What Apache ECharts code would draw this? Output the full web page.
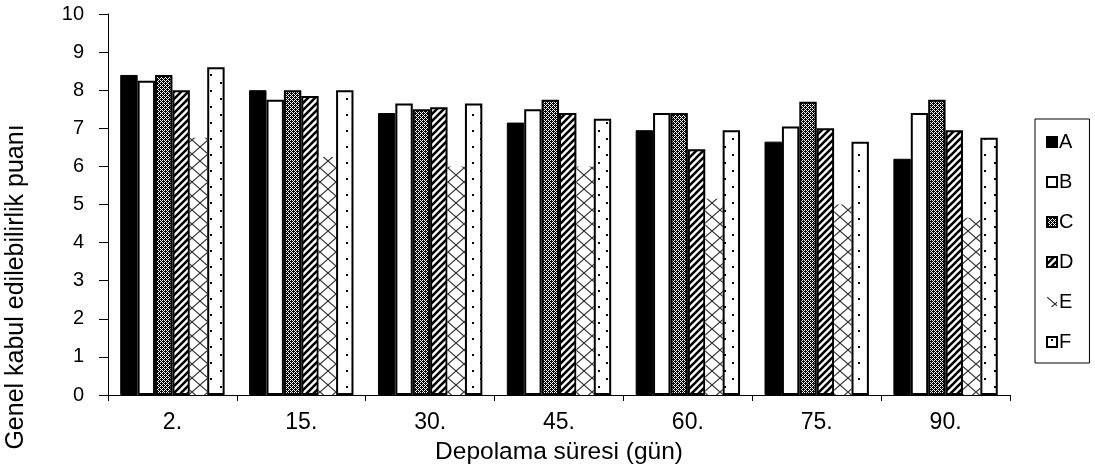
<!DOCTYPE html>
<html>
<head>
<meta charset="utf-8">
<script src="https://cdn.jsdelivr.net/npm/echarts@6/dist/echarts.min.js"></script>
<style>
html,body{margin:0;padding:0;background:#fff;}
#chart{width:1095px;height:474px;}
</style>
</head>
<body>
<div id="chart"></div>
<script>
const categories = ['2.', '15.', '30.', '45.', '60.', '75.', '90.'];
const seriesNames = ['A', 'B', 'C', 'D', 'E', 'F'];
const valuesA = [8.4, 8.0, 7.4, 7.15, 6.95, 6.65, 6.2];
const valuesB = [8.25, 7.75, 7.65, 7.5, 7.4, 7.05, 7.4];
const valuesC = [8.4, 8.0, 7.5, 7.75, 7.4, 7.7, 7.75];
const valuesD = [8.0, 7.85, 7.55, 7.4, 6.45, 7.0, 6.95];
const valuesE = [6.75, 6.25, 6.0, 6.0, 5.15, 5.0, 4.65];
const valuesF = [8.6, 8.0, 7.65, 7.25, 6.95, 6.65, 6.75];
const yTicks = [0, 1, 2, 3, 4, 5, 6, 7, 8, 9, 10];
const xTitle = 'Depolama süresi (gün)';
const yTitle = 'Genel kabul edilebilirlik puanı';

function makeCanvas(w, h, draw) {
  const c = document.createElement('canvas');
  c.width = w; c.height = h;
  const ctx = c.getContext('2d');
  ctx.fillStyle = '#fff';
  ctx.fillRect(0, 0, w, h);
  draw(ctx);
  return c;
}
const patChecker = makeCanvas(4, 4, ctx => {
  ctx.fillStyle = '#000';
  ctx.fillRect(0, 0, 4, 4);
  ctx.fillStyle = '#fff';
  [[0, 0], [2, 0], [1, 1], [0, 2], [2, 2], [3, 3]].forEach(p => ctx.fillRect(p[0], p[1], 1, 1));
});
const patStripe = makeCanvas(7, 7, ctx => {
  ctx.strokeStyle = '#000';
  ctx.lineWidth = 2.6;
  [[-7, 7, 7, -7], [0, 7, 7, 0], [0, 14, 14, 0]].forEach(l => {
    ctx.beginPath(); ctx.moveTo(l[0], l[1]); ctx.lineTo(l[2], l[3]); ctx.stroke();
  });
});
const patLattice = makeCanvas(16, 14, ctx => {
  ctx.strokeStyle = '#333';
  ctx.lineWidth = 1.2;
  ctx.beginPath(); ctx.moveTo(0, 0); ctx.lineTo(16, 14); ctx.stroke();
  ctx.beginPath(); ctx.moveTo(0, 14); ctx.lineTo(16, 0); ctx.stroke();
});
const patDots = makeCanvas(18, 16, ctx => {
  ctx.fillStyle = '#000';
  ctx.fillRect(4, 2, 2, 2);
  ctx.fillRect(12, 10, 2, 2);
});
const pat = c => ({ image: c, repeat: 'repeat' });

const styles = [
  { color: '#000', borderColor: '#000', borderWidth: 1 },
  { color: '#fff', borderColor: '#000', borderWidth: 2 },
  { color: pat(patChecker), borderColor: '#000', borderWidth: 2 },
  { color: pat(patStripe), borderColor: '#000', borderWidth: 2 },
  { color: pat(patLattice), borderColor: '#777', borderWidth: 0 },
  { color: pat(patDots), borderColor: '#000', borderWidth: 2 }
];
const allValues = [valuesA, valuesB, valuesC, valuesD, valuesE, valuesF];
const FONT = 'Liberation Sans, Arial, sans-serif';

const chart = echarts.init(document.getElementById('chart'), null, { renderer: 'canvas' });
chart.setOption({
  backgroundColor: '#fff',
  animation: false,
  textStyle: { fontFamily: FONT, color: '#000' },
  grid: { left: 108, right: 85, top: 14, bottom: 79, containLabel: false },
  legend: {
    orient: 'vertical',
    left: 1035, top: 119,
    data: seriesNames,
    icon: 'rect',
    itemWidth: 10, itemHeight: 10, itemGap: 20,
    borderColor: '#000', borderWidth: 1,
    padding: [13, 16, 11, 11],
    textStyle: { fontSize: 20, lineHeight: 20, color: '#000', fontFamily: FONT, padding: [0, 0, 0, -3] }
  },
  xAxis: {
    type: 'category',
    data: categories,
    name: xTitle,
    nameLocation: 'middle',
    nameGap: 45,
    nameTextStyle: { fontSize: 24.5, color: '#000', fontFamily: FONT },
    axisLine: { lineStyle: { color: '#000', width: 1 } },
    axisTick: { show: true, length: 6, lineStyle: { color: '#000' } },
    axisLabel: { fontSize: 23, color: '#000', margin: 16, fontFamily: FONT },
    splitLine: { show: false }
  },
  yAxis: {
    type: 'value',
    min: 0, max: 10, interval: 1,
    axisLine: { show: true, lineStyle: { color: '#000', width: 1 } },
    axisTick: { show: true, length: 9, lineStyle: { color: '#000' } },
    axisLabel: { fontSize: 20, color: '#000', margin: 24, fontFamily: FONT, formatter: v => yTicks.includes(v) ? String(v) : '' },
    splitLine: { show: false }
  },
  graphic: [{
    type: 'text',
    rotation: Math.PI / 2,
    x: 16, y: 287,
    style: { text: yTitle, fontSize: 25, fill: '#000', fontFamily: FONT, align: 'center', verticalAlign: 'middle' }
  }],
  series: seriesNames.map((n, i) => ({
    name: n,
    type: 'bar',
    data: allValues[i],
    barGap: '0%',
    barCategoryGap: '19%',
    itemStyle: styles[i],
    emphasis: { disabled: true }
  }))
});
</script>
</body>
</html>
